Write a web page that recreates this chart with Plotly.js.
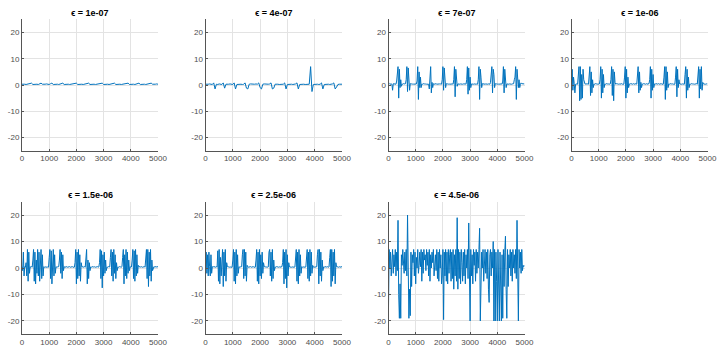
<!DOCTYPE html>
<html>
<head>
<meta charset="utf-8">
<script src="https://cdn.plot.ly/plotly-3.0.1.min.js"></script>
<style>
  html, body { margin: 0; padding: 0; background: #fff; }
  #plot { width: 720px; height: 350px; }
</style>
</head>
<body>
<div id="plot"></div>
<script>
var titles = ['ϵ = 1e-07', 'ϵ = 4e-07', 'ϵ = 7e-07', 'ϵ = 1e-06',
              'ϵ = 1.5e-06', 'ϵ = 2.5e-06', 'ϵ = 4.5e-06'];

var xTicks = [0, 1000, 2000, 3000, 4000, 5000];
var yTicks = [-20, -10, 0, 10, 20];

// samples between stored points, per panel
var steps = [50, 50, 25, 25, 25, 25, 25];

var y1 = [0.3,0.4,0.3,0.2,0.3,0.4,0.6,0.7,0.2,0.3,0.4,0.3,0.2,0.5,0.7,0.3,0.2,0.3,0.4,0.3,
  0.2,0.5,0.7,0.2,0.3,0.4,0.3,0.2,0.3,0.4,0.7,0.2,0.3,0.4,0.3,0.2,0.3,0.4,0.3,0.5,
  0.7,0.2,0.3,0.4,0.3,0.2,0.3,0.4,0.5,0.7,0.2,0.3,0.4,0.3,0.2,0.3,0.4,0.3,0.6,0.7,
  0.2,0.3,0.4,0.3,0.2,0.3,0.4,0.5,0.7,0.2,0.3,0.4,0.3,0.2,0.3,0.4,0.3,0.6,0.7,0.2,
  0.3,0.4,0.3,0.2,0.3,0.5,0.7,0.2,0.3,0.4,0.3,0.2,0.3,0.4,0.5,0.7,0.3,0.2,0.3,0.4,0.3];

var y2 = [0.3,0.2,0.3,0.4,0.3,0.2,0.8,-1.5,0.3,0.2,0.4,0.3,0.2,0.8,-1.2,0.3,0.2,0.3,0.4,0.3,
  0.2,0.8,-1.5,0.2,0.3,0.4,0.3,0.2,0.3,0.8,-1.2,-1.5,0.3,0.4,0.3,0.2,0.3,0.4,0.3,0.8,
  -1.0,-1.5,0.3,0.4,0.3,0.2,0.3,0.4,0.8,-1.5,-1.2,0.3,0.4,0.3,0.2,0.3,0.4,0.3,0.8,-1.5,
  0.2,0.3,0.4,0.3,0.2,0.3,0.4,0.8,-1.5,0.2,0.3,0.4,0.3,0.2,0.3,0.4,0.3,7.0,-2.5,0.2,
  0.3,0.4,0.3,0.2,0.3,0.8,-1.5,0.2,0.3,0.4,0.3,0.2,0.3,0.4,0.8,-1.5,-0.8,0.2,0.3,0.4,0.3];

var y3 = [0.4,0.6,0.3,0.5,0.4,0.3,-2,0.5,0.4,0.3,
  0.5,0.3,1.5,6.5,7,-5,6,-1,2,-0.5,
  0.4,0.3,0.5,0.3,0.4,0.5,2,7,-2.5,6.5,
  -1,-2,0.5,0.3,0.4,0.3,0.5,0.3,0.4,0.5,
  0.3,0.4,1.5,7,-5.5,5,-1,3,-1,0.4,
  0.3,0.5,0.3,0.4,0.3,0.5,0.3,0.4,0.5,0.3,
  -1.5,2,7,-3,1,-1,0.5,0.3,0.4,0.3,
  0.5,0.3,0.4,0.5,0.3,0.4,0.3,0.5,0.3,2,
  7,-2,6.5,1.5,-1,0.5,0.3,0.4,0.3,0.5,
  0.3,0.4,0.5,0.3,0.4,0.3,2,7,-4.5,6,
  1,-0.5,0.4,0.3,0.5,0.3,0.4,0.3,0.5,0.3,
  0.4,0.5,0.3,0.4,0.3,2,7,-3.5,6.5,-2,
  3,-1,0.4,0.3,0.5,0.3,0.4,0.3,0.5,0.3,
  0.4,0.3,2,7,-5.5,6,3,-1,0.5,0.4,
  0.3,0.5,0.3,0.4,0.3,0.5,0.3,0.4,0.5,0.3,
  1,6.5,7,-3,6,4,-1,0.5,0.3,0.4,
  0.3,0.5,0.3,0.4,0.3,0.5,0.4,0.3,1.5,7,
  -3,6,1,-1,0.4,0.3,0.5,0.3,0.4,0.3,
  0.5,0.3,0.4,0.3,0.5,2,3,7,-5.5,6,
  3.5,-1,2,-1,0.3,0.8,0.5,0.4,0.3,0.5,
  0.4];

var y4 = [0,6,-2,3,0.5,-3,0.3,0.5,0.4,0.3,
  3,7,-6,7,-5.5,4,-5,6,2,0.5,
  0.3,0.4,0.5,0.3,0.4,0.3,3,7,-4,5,
  -3,2,-1,0.4,0.3,0.5,0.3,0.4,0.3,0.5,
  0.3,0.4,2,7,-5,6,-3,4,-1,0.4,
  0.3,0.5,0.3,0.4,0.3,0.5,0.3,0.4,2,7,
  -4,6,-6,5,1,0.3,0.5,0.3,0.4,0.3,
  0.5,0.3,0.4,0.3,0.5,0.3,0.4,0.3,3,7,
  -5,6,-3,3,-1,0.4,0.3,0.5,0.3,0.4,
  0.3,0.5,0.3,0.4,0.3,0.5,0.3,3,7,-3,
  5,-2,1,-1,0.4,0.3,0.5,0.3,0.4,0.3,
  0.5,0.3,0.4,0.3,0.5,2,7,-5,6,-2,
  4,-1,0.4,0.3,0.5,0.3,0.4,0.3,0.5,0.3,
  0.4,0.3,0.5,0.3,0.4,0.3,3,7,-5.5,7,
  -2,5,-1,0.4,0.3,0.5,0.3,0.4,0.3,0.5,
  0.3,0.4,0.3,3,7,-4.5,6,-1,2,0.4,
  0.3,0.5,0.3,0.4,0.3,0.5,0.3,4,7,-5,
  6,-2,3,-1,0.4,0.3,0.5,0.3,0.4,0.3,
  0.5,0.3,0.4,0.3,0.5,0.3,3,7,-5,6,
  -1.5,7,-2,1,0.4,0.3,0.5,0.3,0.4,0.3,
  0.4];

var y5 = [0.5,-1,6,-3,0.5,0.3,2,-3,7,-5,
  6,-2,0.5,0.3,0.5,0.3,3,7,-5,6,
  -6,3,-2,7,-3,6,-5,2,7,-4,
  5,-3,0.5,0.3,0.4,0.3,0.5,0.3,0.4,0.3,
  4,7,-4,6.5,-6,2,7,-3,5,-2,
  0.5,0.3,0.4,0.3,0.5,3,7,-2,6,-4,
  5,-1,0.5,0.3,0.4,0.3,0.5,0.3,0.4,0.3,
  0.5,0.3,0.4,0.3,0.5,0.3,0.4,0.3,2,7,
  -6,6,-4,7,-3,5,-5,2,0.5,0.3,
  0.4,0.3,0.5,0.3,4,7,-6,3,-4,2,
  -1,0.4,0.3,0.5,0.3,0.4,0.3,0.5,0.3,0.4,
  0.3,0.5,0.3,0.4,2,7,-4,6.5,-7.5,5,
  -3,6,-2,3,-1,0.4,0.3,0.5,0.3,0.4,
  4,7,-3,6,-5,7,-2,5,-4,2,
  -1,0.4,0.3,0.5,0.3,0.4,0.3,0.5,4,7,
  -6,5,-3,7,-4,6,-2,3,-1,0.5,
  0.3,0.4,3,7,-4,6.5,-5,7,-3,5,
  -2,1,0.5,0.3,0.4,0.3,0.5,0.3,0.4,0.3,
  0.5,0.3,5,7,-4,7,-7,6,-3,7,
  -5,3,-1,0.3,0.5,0.4,0.3,0.5,0.4,0.3,
  0.5];

var y6 = [0.3,6,-2,5,-3,6,0.5,-3,5,-2,
  0.5,0.3,0.5,0.3,0.4,0.3,0.5,0.3,6.5,-5,
  7,-6,4,-3,5,7,-7,6,-3,7,
  -5,2,0.5,0.3,0.4,0.3,0.5,0.3,0.4,0.3,
  3,7,-5,6,-6,7,-3,5,-2,0.5,
  0.3,0.4,0.3,0.5,5,7,-4,7,-3,6,
  -5,1,0.5,0.3,0.4,0.3,0.5,0.3,0.4,0.3,
  0.5,0.3,0.4,0.3,3,7,-5,6,-6,7,
  -3,5,-4,6,-2,2,0.5,0.3,0.4,0.3,
  0.5,0.3,0.4,6,7,-3,6,-5,7,-4,
  3,-1,0.4,0.3,0.5,0.3,0.4,0.3,0.5,0.3,
  0.4,0.3,0.5,2,7,-6,6,-4,7,-7.5,
  5,-3,2,0.4,0.3,0.5,0.3,0.4,0.3,0.5,
  0.3,0.4,4,7,-5,6,-6,7,-3,5,
  -2,0.5,0.3,0.4,0.3,0.5,0.3,0.4,3,7,
  -4,6,-5,7,-3,6,-2,1,0.3,0.5,
  0.3,0.4,0.3,0.5,5,7,-6,7,-3,6,
  -5,3,-1,0.4,0.3,0.5,0.3,0.4,0.3,0.5,
  0.3,0.4,4,7,-7,7,-5,6,-3,7,
  -6,2,0.5,0.3,0.4,0.3,0.5,0.3,0.4,0.3,
  0.5];

var y7 = [-15,7,0,6,-3,1,7,-2,5,0.5,
  7,-3,6,-1,18,-10,-19,-6,-19,5,
  1,7,0.5,-2,6,-1,7,-3,20,-12,
  -19,-8,-18,6,-7,5,2,7,-3,6,
  -6,4,0,7,-2,1,6,0.5,7,-5,
  6,-2,7,3,5,-1,7,1,6,-3,
  7,-5,5,0,6,2,7,-3,1,5,
  -1,7,-4,6,-5,7,0,5,-6,-3,
  7,-19.5,6,-3,7,-5,6,-6,7,-2,
  5,7,-5,6,-4,7,-8,5,-3,7,
  -5,19,-8,7,-4,6,-6,7,2,-5,
  6,-3,7,-6,5,0,7,-4,17,-8,
  -20,7,-3,5,-6,7,1,6,-5,7,
  -2,6,0,7,15,-20,-8,6,0,7,
  -5,3,7,-2,6,-4,7,-8,-13,5,
  7,-3,6,0,10,-20,7,-20,6,-5,
  -20,7,-8,-20,6,-10,-20,5,-19,7,
  -7,6,12,-8,-19,7,-7,5,0,7,
  -3,6,-5,7,0,5,-2,7,-4,18,
  -6,-20,7,0,6,-2,7,-1,1,0.5,
  1];

var series = [y1, y2, y3, y4, y5, y6, y7];

// pixel boxes of each panel
var W = 720, H = 350;
var cols = [[22, 158], [205.5, 342], [388.5, 524.5], [571.5, 707.5]];
var rows = [[19.4, 150.6], [201.8, 334.2]];

var data = [];
var layout = {
  width: W, height: H,
  margin: {l: 0, r: 0, t: 0, b: 0},
  paper_bgcolor: '#fff',
  plot_bgcolor: '#fff',
  showlegend: false,
  font: {family: 'Liberation Sans, Arial, sans-serif', size: 8, color: '#4d4d4d'},
  annotations: []
};

for (var k = 0; k < series.length; k++) {
  var r = Math.floor(k / 4), c = k % 4;
  var sfx = k === 0 ? '' : String(k + 1);
  data.push({
    y: series[k], x0: 0, dx: steps[k],
    type: 'scatter', mode: 'lines',
    line: {color: '#0072BD', width: 1},
    xaxis: 'x' + sfx, yaxis: 'y' + sfx,
    hoverinfo: 'skip'
  });
  var xd = [cols[c][0] / W, cols[c][1] / W];
  var yd = [1 - rows[r][1] / H, 1 - rows[r][0] / H];
  layout['xaxis' + sfx] = {
    domain: xd, anchor: 'y' + sfx, range: [0, 5000],
    tickvals: xTicks, ticktext: xTicks.map(String),
    showgrid: true, gridcolor: '#e3e3e3', gridwidth: 1,
    zeroline: false, showline: true, linecolor: '#555', linewidth: 1,
    ticks: 'inside', ticklen: 2, tickcolor: '#555',
    tickfont: {size: 8, color: '#4d4d4d'}
  };
  layout['yaxis' + sfx] = {
    domain: yd, anchor: 'x' + sfx, range: [-25, 25],
    tickvals: yTicks, ticktext: yTicks.map(String),
    showgrid: true, gridcolor: '#e3e3e3', gridwidth: 1,
    zeroline: false, showline: true, linecolor: '#555', linewidth: 1,
    ticks: 'inside', ticklen: 2, tickcolor: '#555',
    tickfont: {size: 8, color: '#4d4d4d'}
  };
  layout.annotations.push({
    text: '<b>' + titles[k] + '</b>',
    xref: 'paper', yref: 'paper',
    x: (xd[0] + xd[1]) / 2, y: yd[1] + 6.5 / H,
    xanchor: 'center', yanchor: 'middle', showarrow: false,
    font: {size: 9, color: '#000'}
  });
}

Plotly.newPlot('plot', data, layout, {displayModeBar: false, staticPlot: true});
</script>
</body>
</html>
